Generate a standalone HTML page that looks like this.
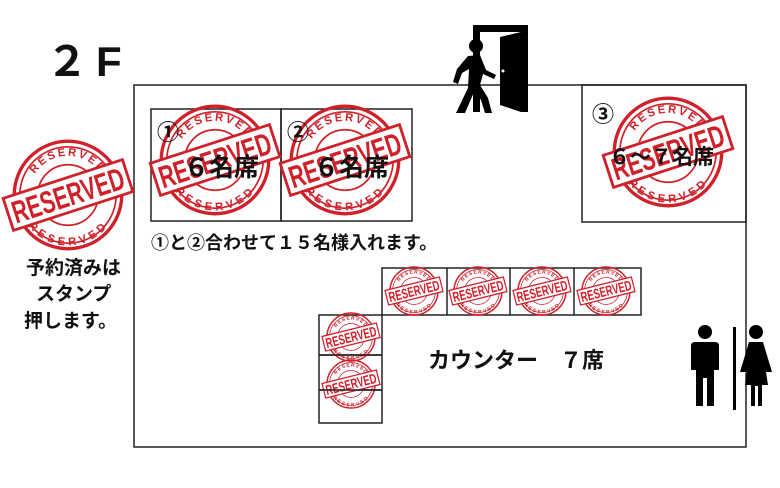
<!DOCTYPE html>
<html><head><meta charset="utf-8"><style>
html,body{margin:0;padding:0;background:#fff;}
svg{display:block;}
.j{font-family:"Liberation Sans","Noto Sans CJK JP",sans-serif;font-weight:bold;fill:#111;}
.r{fill:none;stroke:#d0202a;}
.a{font-family:"Liberation Sans",sans-serif;font-size:10px;font-weight:bold;fill:#d0202a;stroke:none;letter-spacing:2px;}
.b{font-family:"Liberation Sans Narrow","Liberation Sans",sans-serif;font-weight:bold;font-size:28px;fill:#d0202a;stroke:none;}
</style></head><body>
<svg width="780" height="488" viewBox="0 0 780 488" xmlns="http://www.w3.org/2000/svg">
<defs>
<path id="arcT" d="M-35,0 A35,35 0 0 1 35,0"/>
<path id="arcB" d="M-38,0 A38,38 0 0 0 38,0"/>
</defs>
<text x="46" y="76" class="j" font-size="42" letter-spacing="8">２F</text>
<g fill="none" stroke="#222" stroke-width="1.5">
<rect x="134" y="85" width="612" height="362"/>
<rect x="582" y="85" width="164" height="137"/>
<rect x="151" y="109" width="130" height="112"/>
<rect x="281" y="109" width="131" height="112"/>
<rect x="382" y="268" width="259" height="47"/>
<line x1="447" y1="268" x2="447" y2="315"/><line x1="510" y1="268" x2="510" y2="315"/><line x1="574" y1="268" x2="574" y2="315"/>
<rect x="319" y="315" width="63" height="108"/>
<line x1="319" y1="355" x2="382" y2="355"/><line x1="319" y1="390" x2="382" y2="390"/>
</g>

<g transform="translate(68,195) scale(1.12)" class="r"><circle r="48" stroke-width="3"/><circle r="43" stroke-width="1.5"/><circle r="27" stroke-width="1.5"/><text class="a" text-anchor="middle"><textPath href="#arcT" startOffset="50%">RESERVED</textPath></text><text class="a" text-anchor="middle" dy="7"><textPath href="#arcB" startOffset="50%">RESERVED</textPath></text><g transform="rotate(-18)"><rect x="-56" y="-15" width="112" height="30" fill="#fff" stroke-width="2.5"/><text class="b" x="0" y="10" text-anchor="middle" textLength="104" lengthAdjust="spacingAndGlyphs">RESERVED</text></g></g>
<g transform="translate(215,160) scale(1.12)" class="r"><circle r="48" stroke-width="3"/><circle r="43" stroke-width="1.5"/><circle r="27" stroke-width="1.5"/><text class="a" text-anchor="middle"><textPath href="#arcT" startOffset="50%">RESERVED</textPath></text><text class="a" text-anchor="middle" dy="7"><textPath href="#arcB" startOffset="50%">RESERVED</textPath></text><g transform="rotate(-18)"><rect x="-56" y="-15" width="112" height="30" fill="#fff" stroke-width="2.5"/><text class="b" x="0" y="10" text-anchor="middle" textLength="104" lengthAdjust="spacingAndGlyphs">RESERVED</text></g></g>
<g transform="translate(345,160) scale(1.12)" class="r"><circle r="48" stroke-width="3"/><circle r="43" stroke-width="1.5"/><circle r="27" stroke-width="1.5"/><text class="a" text-anchor="middle"><textPath href="#arcT" startOffset="50%">RESERVED</textPath></text><text class="a" text-anchor="middle" dy="7"><textPath href="#arcB" startOffset="50%">RESERVED</textPath></text><g transform="rotate(-18)"><rect x="-56" y="-15" width="112" height="30" fill="#fff" stroke-width="2.5"/><text class="b" x="0" y="10" text-anchor="middle" textLength="104" lengthAdjust="spacingAndGlyphs">RESERVED</text></g></g>
<g transform="translate(668,152) scale(1.12)" class="r"><circle r="48" stroke-width="3"/><circle r="43" stroke-width="1.5"/><circle r="27" stroke-width="1.5"/><text class="a" text-anchor="middle"><textPath href="#arcT" startOffset="50%">RESERVED</textPath></text><text class="a" text-anchor="middle" dy="7"><textPath href="#arcB" startOffset="50%">RESERVED</textPath></text><g transform="rotate(-18)"><rect x="-56" y="-15" width="112" height="30" fill="#fff" stroke-width="2.5"/><text class="b" x="0" y="10" text-anchor="middle" textLength="104" lengthAdjust="spacingAndGlyphs">RESERVED</text></g></g>

<g transform="translate(414,291) scale(0.5)" class="r"><circle r="48" stroke-width="3"/><circle r="43" stroke-width="1.5"/><circle r="27" stroke-width="1.5"/><text class="a" text-anchor="middle"><textPath href="#arcT" startOffset="50%">RESERVED</textPath></text><text class="a" text-anchor="middle" dy="7"><textPath href="#arcB" startOffset="50%">RESERVED</textPath></text><g transform="rotate(-14)"><rect x="-56" y="-15" width="112" height="30" fill="#fff" stroke-width="2.5"/><text class="b" x="0" y="10" text-anchor="middle" textLength="104" lengthAdjust="spacingAndGlyphs">RESERVED</text></g></g>
<g transform="translate(478,291) scale(0.5)" class="r"><circle r="48" stroke-width="3"/><circle r="43" stroke-width="1.5"/><circle r="27" stroke-width="1.5"/><text class="a" text-anchor="middle"><textPath href="#arcT" startOffset="50%">RESERVED</textPath></text><text class="a" text-anchor="middle" dy="7"><textPath href="#arcB" startOffset="50%">RESERVED</textPath></text><g transform="rotate(-14)"><rect x="-56" y="-15" width="112" height="30" fill="#fff" stroke-width="2.5"/><text class="b" x="0" y="10" text-anchor="middle" textLength="104" lengthAdjust="spacingAndGlyphs">RESERVED</text></g></g>
<g transform="translate(542,291) scale(0.5)" class="r"><circle r="48" stroke-width="3"/><circle r="43" stroke-width="1.5"/><circle r="27" stroke-width="1.5"/><text class="a" text-anchor="middle"><textPath href="#arcT" startOffset="50%">RESERVED</textPath></text><text class="a" text-anchor="middle" dy="7"><textPath href="#arcB" startOffset="50%">RESERVED</textPath></text><g transform="rotate(-14)"><rect x="-56" y="-15" width="112" height="30" fill="#fff" stroke-width="2.5"/><text class="b" x="0" y="10" text-anchor="middle" textLength="104" lengthAdjust="spacingAndGlyphs">RESERVED</text></g></g>
<g transform="translate(606,291) scale(0.5)" class="r"><circle r="48" stroke-width="3"/><circle r="43" stroke-width="1.5"/><circle r="27" stroke-width="1.5"/><text class="a" text-anchor="middle"><textPath href="#arcT" startOffset="50%">RESERVED</textPath></text><text class="a" text-anchor="middle" dy="7"><textPath href="#arcB" startOffset="50%">RESERVED</textPath></text><g transform="rotate(-14)"><rect x="-56" y="-15" width="112" height="30" fill="#fff" stroke-width="2.5"/><text class="b" x="0" y="10" text-anchor="middle" textLength="104" lengthAdjust="spacingAndGlyphs">RESERVED</text></g></g>
<g transform="translate(351,337) scale(0.5)" class="r"><circle r="48" stroke-width="3"/><circle r="43" stroke-width="1.5"/><circle r="27" stroke-width="1.5"/><text class="a" text-anchor="middle"><textPath href="#arcT" startOffset="50%">RESERVED</textPath></text><text class="a" text-anchor="middle" dy="7"><textPath href="#arcB" startOffset="50%">RESERVED</textPath></text><g transform="rotate(-14)"><rect x="-56" y="-15" width="112" height="30" fill="#fff" stroke-width="2.5"/><text class="b" x="0" y="10" text-anchor="middle" textLength="104" lengthAdjust="spacingAndGlyphs">RESERVED</text></g></g>
<g transform="translate(351,384) scale(0.5)" class="r"><circle r="48" stroke-width="3"/><circle r="43" stroke-width="1.5"/><circle r="27" stroke-width="1.5"/><text class="a" text-anchor="middle"><textPath href="#arcT" startOffset="50%">RESERVED</textPath></text><text class="a" text-anchor="middle" dy="7"><textPath href="#arcB" startOffset="50%">RESERVED</textPath></text><g transform="rotate(-14)"><rect x="-56" y="-15" width="112" height="30" fill="#fff" stroke-width="2.5"/><text class="b" x="0" y="10" text-anchor="middle" textLength="104" lengthAdjust="spacingAndGlyphs">RESERVED</text></g></g>
<g stroke="#222" stroke-width="1.5"><line x1="319" y1="355" x2="382" y2="355"/><line x1="319" y1="390" x2="382" y2="390"/></g>

<g class="j">
<text x="157" y="140" font-size="22">①</text>
<text x="287" y="140" font-size="22">②</text>
<text x="592" y="122" font-size="22">③</text>
<text x="184" y="176" font-size="25">６名席</text>
<text x="314" y="176" font-size="25">６名席</text>
<text x="609" y="164" font-size="21">６～７名席</text>
<text x="151" y="249" font-size="18">①と②合わせて１５名様入れます。</text>
<text x="428" y="368" font-size="22">カウンター　７席</text>
<text x="26" y="274" font-size="19">予約済みは</text>
<text x="36" y="300" font-size="19">スタンプ</text>
<text x="24" y="327" font-size="19">押します。</text>
</g>
<!-- door -->
<g fill="#000">
<path d="M473,25 H528 V112 H521 V32 H480 V112 H473 Z"/>
<path d="M500,37 L521,32 V112 L500,105 Z"/>
<circle cx="476" cy="46" r="7"/>
<path d="M468,56 L480,55 L486,70 L496,75 L494,79 L483,74 L480,85 L488,98 L492,113 L485,113 L481,100 L474,92 L465,113 L456,113 L468,88 L469,69 L462,73 L458,84 L453,82 L457,69 Z"/>
</g>
<circle cx="503" cy="71" r="1.5" fill="#fff"/>
<!-- toilets -->
<g fill="#000">
<circle cx="705" cy="332" r="7"/>
<path d="M695,342 H715 Q719,342 719,346 V370 H714 V406 H707 V378 H703 V406 H696 V370 H691 V346 Q691,342 695,342Z"/>
<rect x="733" y="327" width="3" height="83"/>
<circle cx="756" cy="332" r="7"/>
<path d="M749,342 H763 L772,372 H766 L768,385 H762 V406 H758 V386 H755 V406 H751 V385 H745 L747,372 H740 Z"/>
</g>
</svg>
</body></html>
